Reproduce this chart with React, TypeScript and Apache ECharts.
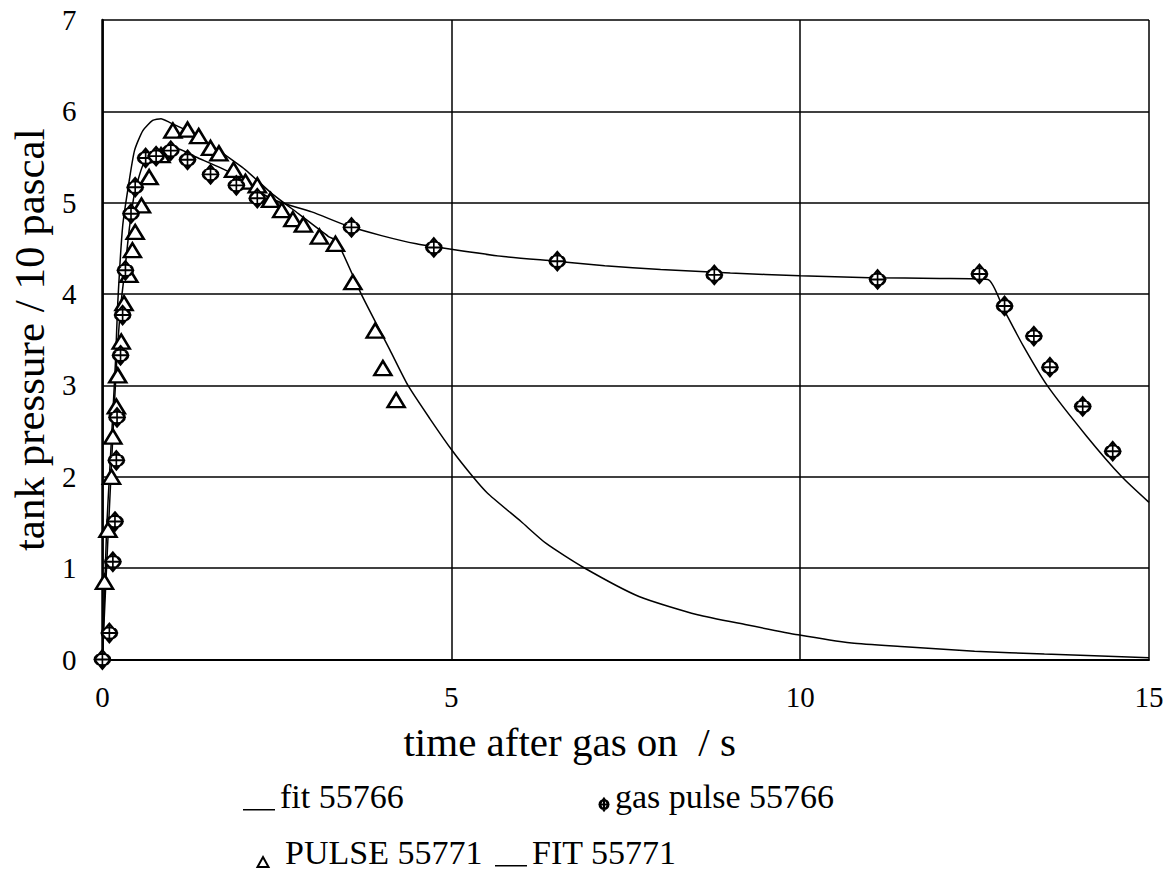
import React, { useEffect, useRef } from 'react';
import * as echarts from 'echarts';

// ---- data ----
const xTicks = [0, 5, 10, 15];
const yTicks = [0, 1, 2, 3, 4, 5, 6, 7];

const fit55766X = [0, 0.05, 0.1, 0.15, 0.2, 0.26, 0.32, 0.39, 0.46, 0.58, 0.72, 0.9, 1.05, 1.34, 1.86, 2.24, 2.53, 3.0, 3.5, 4.0, 4.5, 5.0, 5.75, 6.5, 7.2, 8.0, 9.0, 10.0, 11.0, 12.0, 12.69, 12.92, 13.2, 13.54, 14.1, 14.61, 15.0];
const fit55766Y = [0, 0.85, 1.65, 2.45, 3.2, 3.85, 4.25, 4.74, 5.1, 5.41, 5.54, 5.6, 5.6, 5.5, 5.32, 5.12, 5.01, 4.9, 4.75, 4.64, 4.55, 4.49, 4.41, 4.36, 4.31, 4.27, 4.23, 4.2, 4.18, 4.17, 4.16, 3.83, 3.43, 3.0, 2.45, 2.0, 1.72];

const gasPulse55766X = [0, 0.1, 0.15, 0.18, 0.2, 0.21, 0.26, 0.29, 0.33, 0.41, 0.47, 0.62, 0.77, 0.98, 1.22, 1.55, 1.92, 2.22, 3.57, 4.75, 6.52, 8.77, 11.11, 12.57, 12.93, 13.35, 13.58, 14.05, 14.48];
const gasPulse55766Y = [0, 0.29, 1.07, 1.51, 2.18, 2.65, 3.33, 3.77, 4.26, 4.88, 5.17, 5.49, 5.51, 5.57, 5.47, 5.31, 5.19, 5.05, 4.73, 4.51, 4.36, 4.21, 4.16, 4.22, 3.87, 3.54, 3.2, 2.77, 2.28];

const pulse55771X = [0.03, 0.08, 0.13, 0.15, 0.2, 0.22, 0.27, 0.31, 0.38, 0.43, 0.47, 0.56, 0.67, 0.84, 1.01, 1.22, 1.38, 1.55, 1.67, 1.88, 2.05, 2.22, 2.41, 2.57, 2.73, 2.88, 3.11, 3.34, 3.59, 3.91, 4.02, 4.21];
const pulse55771Y = [0.85, 1.42, 2.0, 2.44, 2.77, 3.11, 3.48, 3.9, 4.21, 4.48, 4.68, 4.97, 5.28, 5.52, 5.79, 5.8, 5.73, 5.6, 5.54, 5.36, 5.23, 5.19, 5.03, 4.92, 4.82, 4.76, 4.63, 4.55, 4.13, 3.6, 3.19, 2.84];

const fit55771X = [0, 0.03, 0.06, 0.1, 0.15, 0.19, 0.22, 0.29, 0.37, 0.46, 0.58, 0.72, 0.84, 0.96, 1.1, 1.34, 1.67, 2.05, 2.43, 2.81, 3.24, 3.36, 3.71, 4.12, 4.38, 4.69, 5.01, 5.31, 5.52, 6.0, 6.36, 6.89, 7.69, 8.53, 9.23, 9.97, 10.74, 11.5, 12.5, 13.5, 15];
const fit55771Y = [0, 0.7, 1.42, 2.0, 2.7, 3.3, 3.9, 4.74, 5.17, 5.57, 5.79, 5.9, 5.92, 5.88, 5.83, 5.74, 5.57, 5.36, 5.1, 4.88, 4.63, 4.58, 4.0, 3.39, 3.0, 2.64, 2.29, 2.0, 1.82, 1.51, 1.27, 1.01, 0.69, 0.49, 0.38, 0.27, 0.18, 0.14, 0.09, 0.06, 0.02];

const seriesNames = ['fit 55766', 'gas pulse 55766', 'PULSE 55771', 'FIT 55771'];
const xTitle = 'time after gas on  / s';
const yTitle = 'tank pressure / 10 pascal';

const zip = (xs: number[], ys: number[]) => xs.map((x, i) => [x, ys[i]]);

const FONT = 'Liberation Serif';

const crossCircle =
  'path://M0,-13 L8,0 L0,13 L-8,0 Z M8,0 A8,8 0 1,1 -8,0 A8,8 0 1,1 8,0 Z M0,-13 L0,13 M-8,0 L8,0';
const legendLine = 'path://M0,0 M32,0 M0,27.5 L32,27.5 L32,29 L0,29 Z';
const legendCross =
  'path://M0,0 M12,0 M6,17 L10.5,23 L6,29 L1.5,23 Z M10.5,23 A4.5,4.5 0 1,1 1.5,23 A4.5,4.5 0 1,1 10.5,23 Z M6,17 L6,29 M1.5,23 L10.5,23';
const legendTri = 'path://M0,0 M24,0 M7,20 L12.5,30 L1.5,30 Z';

export default function App() {
  const ref = useRef<HTMLDivElement>(null);
  useEffect(() => {
    if (!ref.current) return;
    const chart = echarts.init(ref.current, undefined, { renderer: 'svg' });
    const legendText = { fontFamily: FONT, fontSize: 34, color: '#000' };
    chart.setOption({
      animation: false,
      grid: { left: 96, right: 20, top: 20, bottom: 218.5, containLabel: false },
      xAxis: {
        type: 'value',
        min: xTicks[0],
        max: xTicks[xTicks.length - 1],
        interval: 5,
        name: xTitle,
        nameLocation: 'middle',
        nameGap: 62,
        nameTextStyle: { fontFamily: FONT, fontSize: 41, color: '#000', padding: [0, 112, 0, 0] },
        axisLine: { show: true, lineStyle: { color: '#000', width: 2 } },
        axisTick: { show: false },
        axisLabel: { fontFamily: FONT, fontSize: 29, color: '#000', margin: 23 },
        splitLine: { show: true, lineStyle: { color: '#000', width: 1.5 } },
      },
      yAxis: {
        type: 'value',
        min: yTicks[0],
        max: yTicks[yTicks.length - 1],
        interval: 1,
        name: yTitle,
        nameLocation: 'middle',
        nameGap: 43,
        nameTextStyle: { fontFamily: FONT, fontSize: 43, color: '#000' },
        axisLine: { show: true, lineStyle: { color: '#000', width: 2.5 } },
        axisTick: { show: false },
        axisLabel: { fontFamily: FONT, fontSize: 29, color: '#000', margin: 26 },
        splitLine: { show: true, lineStyle: { color: '#000', width: 1.5 } },
      },
      legend: [
        { left: 243, top: 779, padding: 0, selectedMode: false, itemHeight: 30, itemWidth: 32, textStyle: legendText, itemStyle: { borderWidth: 0 }, data: [{ name: seriesNames[0], icon: legendLine }] },
        { left: 597, top: 779, padding: 0, selectedMode: false, itemHeight: 30, itemWidth: 12, textStyle: legendText, data: [{ name: seriesNames[1], icon: legendCross }] },
        { left: 255, top: 835, padding: 0, selectedMode: false, itemHeight: 30, itemWidth: 24, textStyle: legendText, data: [{ name: seriesNames[2], icon: legendTri }] },
        { left: 495, top: 835, padding: 0, selectedMode: false, itemHeight: 30, itemWidth: 32, textStyle: legendText, itemStyle: { borderWidth: 0 }, data: [{ name: seriesNames[3], icon: legendLine }] },
      ],
      series: [
        {
          name: seriesNames[0],
          type: 'line',
          data: zip(fit55766X, fit55766Y),
          symbol: 'none',
          smooth: 0.2,
          color: '#000',
          lineStyle: { color: '#000', width: 1.5 },
          itemStyle: { color: '#000' },
          z: 2,
        },
        {
          name: seriesNames[3],
          type: 'line',
          data: zip(fit55771X, fit55771Y),
          symbol: 'none',
          smooth: 0.2,
          color: '#000',
          lineStyle: { color: '#000', width: 1.5 },
          itemStyle: { color: '#000' },
          z: 2,
        },
        {
          name: seriesNames[1],
          type: 'scatter',
          data: zip(gasPulse55766X, gasPulse55766Y),
          symbol: crossCircle,
          symbolSize: [16, 19],
          itemStyle: { color: '#fff', borderColor: '#000', borderWidth: 1.8, opacity: 1 },
          z: 4,
        },
        {
          name: seriesNames[2],
          type: 'scatter',
          data: zip(pulse55771X, pulse55771Y),
          symbol: 'triangle',
          symbolSize: [17, 14],
          itemStyle: { color: '#fff', borderColor: '#000', borderWidth: 2.5, opacity: 1 },
          z: 3,
        },
      ],
    });
    return () => chart.dispose();
  }, []);
  return (
    <div
      ref={ref}
      style={{ position: 'absolute', left: 0, top: 0, width: 1169, height: 878, background: '#fff' }}
    />
  );
}
